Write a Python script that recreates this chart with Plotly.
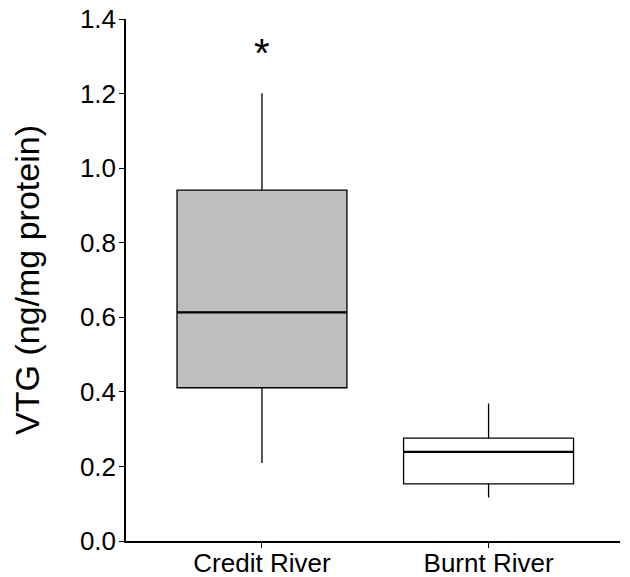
import plotly.graph_objects as go

categories = ["Credit River", "Burnt River"]
q1 = [0.411, 0.153]
median = [0.613, 0.239]
q3 = [0.941, 0.276]
lower = [0.209, 0.117]
upper = [1.201, 0.369]
fills = ["#BEBEBE", "#FFFFFF"]
sig_label = "*"
sig_y = 1.31
y_ticks = [0.0, 0.2, 0.4, 0.6, 0.8, 1.0, 1.2, 1.4]

fig = go.Figure()
for i, c in enumerate(categories):
    fig.add_trace(go.Box(
        x=[c], q1=[q1[i]], median=[median[i]], q3=[q3[i]],
        lowerfence=[lower[i]], upperfence=[upper[i]],
        fillcolor=fills[i], line=dict(color="black", width=1.3),
        whiskerwidth=0, width=0.75, boxpoints=False, showlegend=False,
        hoverinfo="skip",
    ))
    # thicker median line
    fig.add_trace(go.Scatter(
        x=[i - 0.375, i + 0.375], y=[median[i], median[i]],
        mode="lines", line=dict(color="black", width=2.2),
        xaxis="x2", showlegend=False, hoverinfo="skip",
    ))

fig.add_annotation(x=categories[0], y=sig_y, text=sig_label, showarrow=False,
                   font=dict(size=40, color="black", family="Liberation Sans, Arial"),
                   yanchor="middle")

fig.update_layout(
    width=622, height=569,
    margin=dict(l=118, r=10, t=11, b=36),
    plot_bgcolor="white", paper_bgcolor="white",
    font=dict(family="Liberation Sans, Arial", color="black"),
    xaxis=dict(
        type="category", categoryorder="array", categoryarray=categories,
        range=[-0.6, 1.58], showline=True, linecolor="black", linewidth=1.5,
        ticks="outside", ticklen=5, tickcolor="black", tickwidth=1.2,
        tickfont=dict(size=26), showgrid=False, zeroline=False,
        automargin=False, ticklabelstandoff=-7, ticklabeloverflow="allow",
    ),
    xaxis2=dict(range=[-0.6, 1.58], overlaying="x", visible=False),
    yaxis=dict(
        range=[0, 1.4], tickvals=y_ticks, tickformat=".1f",
        showline=True, linecolor="black", linewidth=1.5,
        ticks="outside", ticklen=5, tickcolor="black", tickwidth=1.2,
        tickfont=dict(size=26), showgrid=False, zeroline=False,
        automargin=False, ticklabeloverflow="allow", ticklabelstandoff=-2,
        title=dict(text="VTG (ng/mg protein)", font=dict(size=34), standoff=34),
    ),
)

fig.write_html("out.html")
